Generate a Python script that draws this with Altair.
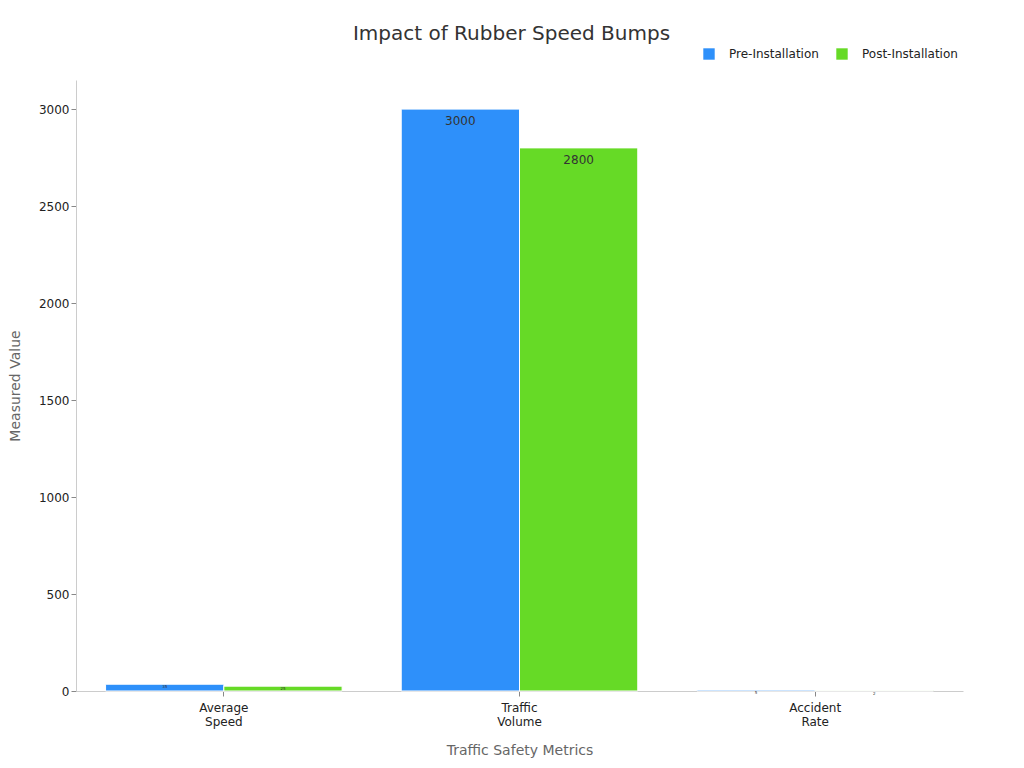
import altair as alt
import pandas as pd

metrics = ["Average\nSpeed", "Traffic\nVolume", "Accident\nRate"]
phases = ["Pre-Installation", "Post-Installation"]
pre_values = [35, 3000, 5]
post_values = [25, 2800, 2]
colors = ["#2E90FA", "#66DA26"]

rows = []
for m, pre, post in zip(metrics, pre_values, post_values):
    rows.append({"metric": m, "phase": phases[0], "value": pre})
    rows.append({"metric": m, "phase": phases[1], "value": post})
df = pd.DataFrame(rows)
df["big"] = df["value"] > 100

base = alt.Chart(df).encode(
    x=alt.X(
        "metric:N",
        sort=metrics,
        title="Traffic Safety Metrics",
        scale=alt.Scale(paddingInner=0.2, paddingOuter=0.1),
        axis=alt.Axis(
            labelAngle=0,
            labelExpr="split(datum.label, '\\n')",
            labelFontSize=12,
            labelColor="#222",
            labelPadding=6,
            titleFontSize=14,
            titleColor="#666",
            titleFontWeight="normal",
            titlePadding=16,
            domainColor="#ccc",
            tickColor="#888",
            tickSize=5,
        ),
    ),
    xOffset=alt.XOffset("phase:N", sort=phases),
    y=alt.Y(
        "value:Q",
        title="Measured Value",
        scale=alt.Scale(domain=[0, 3150], nice=False),
        axis=alt.Axis(
            values=[0, 500, 1000, 1500, 2000, 2500, 3000],
            format="d",
            grid=False,
            labelFontSize=12,
            labelColor="#222",
            titleFontSize=14,
            titleColor="#666",
            titleFontWeight="normal",
            titlePadding=16,
            domainColor="#ccc",
            tickColor="#888",
            tickSize=5,
        ),
    ),
)

bars = base.mark_bar(stroke="white", strokeWidth=1).encode(
    color=alt.Color(
        "phase:N",
        sort=phases,
        scale=alt.Scale(domain=phases, range=colors),
        legend=alt.Legend(
            title=None,
            orient="none",
            direction="horizontal",
            legendX=627,
            legendY=-32,
            symbolType="square",
            symbolSize=130,
            symbolStrokeWidth=0,
            labelFontSize=12,
            labelColor="#222",
            labelOffset=14,
            columnPadding=17,
        ),
    )
)

big_labels = (
    base.mark_text(baseline="top", dy=7, fontSize=12, color="#333")
    .encode(text=alt.Text("value:Q"))
    .transform_filter("datum.big")
)

small_labels = (
    base.mark_text(baseline="top", dy=1, fontSize=4, color="#333")
    .encode(text=alt.Text("value:Q"))
    .transform_filter("!datum.big")
)

chart = (
    (bars + big_labels + small_labels)
    .properties(
        width=887,
        height=611,
        padding={"top": 16, "left": 0, "right": 5, "bottom": 5},
        title=alt.TitleParams(
            "Impact of Rubber Speed Bumps",
            fontSize=20,
            fontWeight="normal",
            color="#333",
            offset=4,
            dx=-8,
        ),
    )
    .configure(font="DejaVu Sans")
    .configure_view(stroke=None)
)

chart.save("out.html", embed_options={"renderer": "svg", "actions": False})
